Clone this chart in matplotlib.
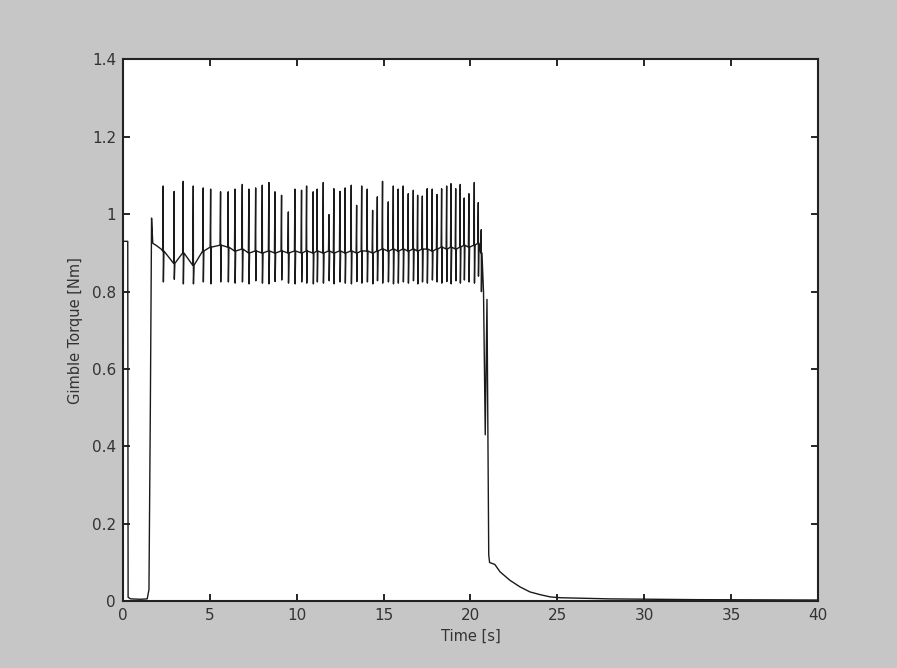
import matplotlib
matplotlib.use("Agg")
import matplotlib.pyplot as plt
import numpy as np

# --------------------------------------------------------------------
# Data
# --------------------------------------------------------------------
# start-up segment (time [s], torque [Nm])
start_t = [0.0, 0.28, 0.30, 0.45, 1.0, 1.40, 1.50, 1.58, 1.65, 1.72, 1.90, 2.20]
start_v = [0.93, 0.93, 0.01, 0.006, 0.005, 0.006, 0.03, 0.50, 0.99, 0.925, 0.92, 0.91]

# chattering spikes during the manoeuvre
spike_t = [2.32, 2.95, 3.47, 4.05, 4.62, 5.05, 5.62, 6.06,
           6.45, 6.87, 7.25, 7.64, 8.02, 8.40, 8.75, 9.13, 9.52, 9.90, 10.28, 10.57, 10.95,
           11.18, 11.53, 11.86, 12.14, 12.49, 12.79, 13.14, 13.45, 13.74, 14.06, 14.37,
           14.64, 14.94, 15.27, 15.56, 15.84,
           16.13, 16.42, 16.71, 16.96, 17.23, 17.51, 17.80, 18.07, 18.34, 18.63, 18.88,
           19.15, 19.41, 19.64, 19.91, 20.22, 20.45, 20.62]
spike_top = [1.073, 1.059, 1.085, 1.073, 1.068, 1.065, 1.058, 1.058,
             1.065, 1.077, 1.065, 1.068, 1.075, 1.082, 1.058, 1.049, 1.006, 1.065, 1.062, 1.073, 1.058,
             1.065, 1.082, 0.999, 1.066, 1.059, 1.068, 1.075, 1.023, 1.073, 1.065, 1.010,
             1.045, 1.085, 1.032, 1.073, 1.065,
             1.073, 1.053, 1.062, 1.049, 1.047, 1.066, 1.065, 1.051, 1.066, 1.073, 1.079,
             1.066, 1.077, 1.042, 1.053, 1.082, 1.030, 0.960]
spike_bot = [0.825, 0.832, 0.820, 0.820, 0.825, 0.820, 0.825, 0.825,
             0.822, 0.825, 0.820, 0.828, 0.822, 0.820, 0.826, 0.830, 0.822, 0.820, 0.825, 0.822, 0.820,
             0.825, 0.822, 0.828, 0.820, 0.825, 0.822, 0.820, 0.826, 0.822, 0.825, 0.820,
             0.828, 0.822, 0.825, 0.820, 0.822,
             0.825, 0.822, 0.828, 0.820, 0.825, 0.822, 0.830, 0.825, 0.822, 0.826, 0.820,
             0.828, 0.822, 0.830, 0.825, 0.822, 0.840, 0.800]
spike_base = [0.905, 0.873, 0.900, 0.868, 0.905, 0.915, 0.920, 0.915,
              0.905, 0.910, 0.900, 0.905, 0.900, 0.905, 0.900, 0.905, 0.900, 0.905, 0.900, 0.905, 0.900,
              0.905, 0.900, 0.905, 0.900, 0.905, 0.900, 0.905, 0.900, 0.905, 0.905, 0.900,
              0.905, 0.910, 0.905, 0.910, 0.905,
              0.910, 0.905, 0.910, 0.905, 0.910, 0.910, 0.905, 0.910, 0.915, 0.910, 0.915,
              0.910, 0.915, 0.920, 0.915, 0.920, 0.925, 0.900]

# spin-down and decay
decay_t = [20.75, 20.85, 20.95, 21.05, 21.10, 21.40, 21.70, 22.27, 22.85, 23.42, 24.0,
           24.6, 25.15, 28.0, 33.0, 40.0]
decay_v = [0.80, 0.43, 0.78, 0.12, 0.10, 0.095, 0.076, 0.054, 0.037, 0.024, 0.017,
           0.011, 0.009, 0.006, 0.004, 0.003]

xticks = [0, 5, 10, 15, 20, 25, 30, 35, 40]
yticks = [0, 0.2, 0.4, 0.6, 0.8, 1.0, 1.2, 1.4]
ylabels = ["0", "0.2", "0.4", "0.6", "0.8", "1", "1.2", "1.4"]

# --------------------------------------------------------------------
# Build the time series
# --------------------------------------------------------------------
t = list(start_t)
v = list(start_v)
for ts, top, bot, base in zip(spike_t, spike_top, spike_bot, spike_base):
    t += [ts - 0.03, ts, ts + 0.01, ts + 0.04]
    v += [base, top, bot, base]
t += decay_t
v += decay_v

# --------------------------------------------------------------------
# Figure
# --------------------------------------------------------------------
fig = plt.figure(figsize=(8.97, 6.68), dpi=100)
fig.patch.set_facecolor('#c6c6c6')
ax = fig.add_axes([0.137, 0.100, 0.775, 0.811])
ax.set_facecolor('white')

ax.plot(t, v, '-', color='#1a1a1a', linewidth=1.0)

ax.set_xlim(0, 40)
ax.set_ylim(0, 1.4)
ax.set_xticks(xticks)
ax.set_yticks(yticks)
ax.set_yticklabels(ylabels)
ax.tick_params(direction='in', length=5, width=1.2, top=True, right=True,
               labelsize=11, labelcolor='#333333', pad=5)
for s in ax.spines.values():
    s.set_linewidth(1.5)
    s.set_color('#222222')

ax.set_xlabel("Time [s]", fontsize=10.5, color='#333333', labelpad=4)
ax.set_ylabel("Gimble Torque [Nm]", fontsize=10.5, color='#333333', labelpad=6)

plt.savefig("out.png", dpi=100, facecolor=fig.get_facecolor())
plt.close()
